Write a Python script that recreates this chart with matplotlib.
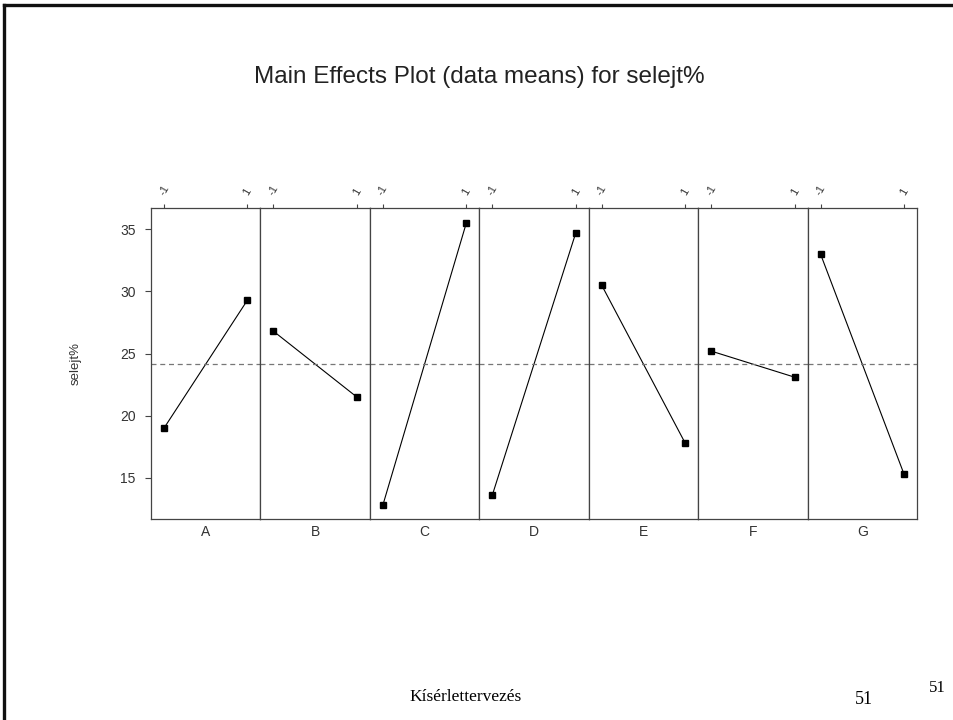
import matplotlib
matplotlib.use("Agg")
import matplotlib.pyplot as plt
import numpy as np

# Factor names and the mean response at the low (-1) and high (1) level
factors = ["A", "B", "C", "D", "E", "F", "G"]
levels = [-1, 1]
level_labels = ["-1", "1"]
low_means = [19.0, 26.8, 12.8, 13.6, 30.5, 25.2, 33.0]
high_means = [29.3, 21.5, 35.5, 34.7, 17.8, 23.1, 15.3]
grand_mean = 24.15
y_ticks = [15, 20, 25, 30, 35]

plt.rcParams["font.family"] = ["Liberation Sans", "DejaVu Sans"]

fig = plt.figure(figsize=(9.54, 7.2), dpi=100)
fig.patch.set_facecolor("white")

left, right = 151 / 954, 917 / 954
bottom, top = 1 - 519 / 720, 1 - 208 / 720
gs = fig.add_gridspec(1, len(factors), left=left, right=right,
                      bottom=bottom, top=top, wspace=0)

frame_col = "#444444"
for i, name in enumerate(factors):
    ax = fig.add_subplot(gs[0, i])
    ax.plot(levels, [low_means[i], high_means[i]], color="black", lw=0.8,
            marker="s", ms=3.8, mfc="black", mec="black")
    ax.axhline(grand_mean, color="#777777", lw=0.9, ls=(0, (4, 3)))
    ax.set_xlim(-1.31, 1.31)
    ax.set_ylim(11.7, 36.7)
    for sp in ax.spines.values():
        sp.set_color(frame_col)
        sp.set_linewidth(0.9)
    ax.xaxis.tick_top()
    ax.set_xticks(levels)
    ax.set_xticklabels(level_labels, rotation=60, fontsize=8, color="#333333")
    ax.tick_params(axis="x", length=3, width=0.8, color=frame_col, pad=5)
    if i == 0:
        ax.set_yticks(y_ticks)
        ax.tick_params(axis="y", length=4, width=0.8, color=frame_col,
                       labelsize=10, labelcolor="#333333", pad=7)
        ax.set_ylabel("selejt%", fontsize=9.5, color="#333333", labelpad=28)
    else:
        ax.set_yticks([])
    ax.text(0.5, -0.018, name, transform=ax.transAxes, ha="center", va="top",
            fontsize=10, color="#333333")

fig.text(479 / 954, 1 - 77 / 720, "Main Effects Plot (data means) for selejt%",
         ha="center", va="center", fontsize=17.5, color="#222222")

# Slide footer
serif = ["Liberation Serif", "DejaVu Serif"]
fig.text(466 / 954, 1 - 697 / 720, "Kísérlettervezés", ha="center",
         va="center", fontsize=12.5, family=serif, color="black")
fig.text(864 / 954, 1 - 700 / 720, "51", ha="center", va="center",
         fontsize=13, family=serif, color="black")
fig.text(937 / 954, 1 - 688 / 720, "51", ha="center", va="center",
         fontsize=12, family=serif, color="black")

# Slide frame: top and left edges
fig.add_artist(plt.Line2D([4 / 954, 1.0], [1 - 5 / 720, 1 - 5 / 720],
                          transform=fig.transFigure, color="#111111", lw=2.4))
fig.add_artist(plt.Line2D([4 / 954, 4 / 954], [1 - 5 / 720, 0.0],
                          transform=fig.transFigure, color="#111111", lw=2.4))

fig.savefig("out.png", dpi=100, facecolor="white")
